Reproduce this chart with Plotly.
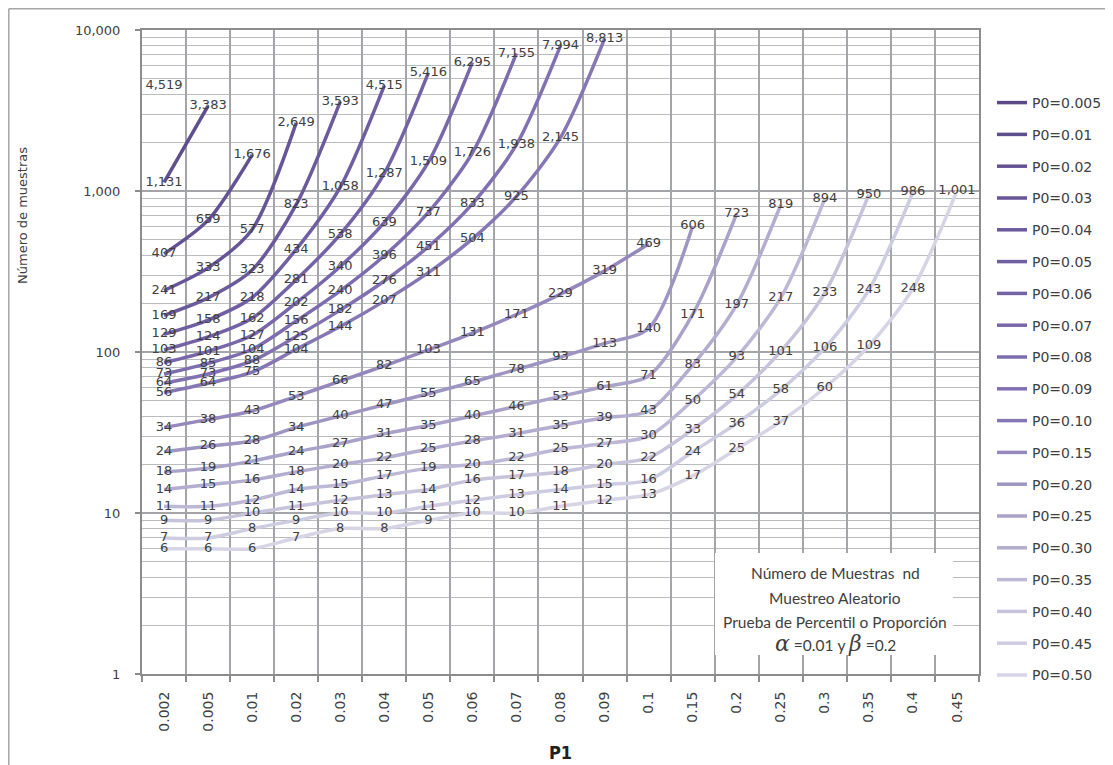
import plotly.graph_objects as go

# ---------------- data ----------------
categories = ["0.002", "0.005", "0.01", "0.02", "0.03", "0.04", "0.05", "0.06", "0.07",
              "0.08", "0.09", "0.1", "0.15", "0.2", "0.25", "0.3", "0.35", "0.4", "0.45"]

series_names = ["P0=0.005", "P0=0.01", "P0=0.02", "P0=0.03", "P0=0.04", "P0=0.05",
                "P0=0.06", "P0=0.07", "P0=0.08", "P0=0.09", "P0=0.10", "P0=0.15",
                "P0=0.20", "P0=0.25", "P0=0.30", "P0=0.35", "P0=0.40", "P0=0.45", "P0=0.50"]

s_0005 = [4519]
s_001 = [1131, 3383]
s_002 = [407, 659, 1676]
s_003 = [241, 333, 577, 2649]
s_004 = [169, 217, 323, 823, 3593]
s_005 = [129, 158, 218, 434, 1058, 4515]
s_006 = [103, 124, 162, 281, 538, 1287, 5416]
s_007 = [86, 101, 127, 202, 340, 639, 1509, 6295]
s_008 = [73, 85, 104, 156, 240, 396, 737, 1726, 7155]
s_009 = [64, 73, 88, 125, 182, 276, 451, 833, 1938, 7994]
s_010 = [56, 64, 75, 104, 144, 207, 311, 504, 925, 2145, 8813]
s_015 = [34, 38, 43, 53, 66, 82, 103, 131, 171, 229, 319, 469]
s_020 = [24, 26, 28, 34, 40, 47, 55, 65, 78, 93, 113, 140, 606]
s_025 = [18, 19, 21, 24, 27, 31, 35, 40, 46, 53, 61, 71, 171, 723]
s_030 = [14, 15, 16, 18, 20, 22, 25, 28, 31, 35, 39, 43, 83, 197, 819]
s_035 = [11, 11, 12, 14, 15, 17, 19, 20, 22, 25, 27, 30, 50, 93, 217, 894]
s_040 = [9, 9, 10, 11, 12, 13, 14, 16, 17, 18, 20, 22, 33, 54, 101, 233, 950]
s_045 = [7, 7, 8, 9, 10, 10, 11, 12, 13, 14, 15, 16, 24, 36, 58, 106, 243, 986]
s_050 = [6, 6, 6, 7, 8, 8, 9, 10, 10, 11, 12, 13, 17, 25, 37, 60, 109, 248, 1001]

series_values = [s_0005, s_001, s_002, s_003, s_004, s_005, s_006, s_007, s_008, s_009,
                 s_010, s_015, s_020, s_025, s_030, s_035, s_040, s_045, s_050]

colors = ["#5b4a86", "#5f4e8d", "#635292", "#675697", "#6b5a9c", "#6f5ea1", "#7462a6",
          "#7867aa", "#7d6cae", "#8271b2", "#8677b4", "#9488bd", "#9f95c3", "#aaa2c9",
          "#b4adcf", "#bdb8d5", "#c6c3db", "#cecce0", "#d7d5e5"]

# ---------------- geometry (page pixels; the page body has an 8px margin) ----------------
PAGE_W, PAGE_H, OFF = 1113, 765, 8
W, H = PAGE_W - OFF, PAGE_H - OFF
L, R, T, B = 142, 979, 30, 674   # plot area in page pixels


def px(x):
    return (x - L) / (R - L)


def py(y):
    return 1 - (y - T) / (B - T)


TXT = "#404040"
GRID = "#a3a5a8"
FONT = "DejaVu Sans"

fig = go.Figure()

# lines (with legend)
for i, (name, vals) in enumerate(zip(series_names, series_values)):
    fig.add_trace(go.Scatter(
        x=categories[:len(vals)], y=vals, mode="lines", name=name,
        line=dict(color=colors[i], width=3.5, shape="spline", smoothing=0.8),
        legendgroup=name, showlegend=True, hoverinfo="skip"))

# data labels on top of all lines
for i, (name, vals) in enumerate(zip(series_names, series_values)):
    fig.add_trace(go.Scatter(
        x=categories[:len(vals)], y=vals, mode="text",
        text=[f"{v:,}" for v in vals], textposition="middle center",
        textfont=dict(family=FONT, size=13, color=TXT),
        legendgroup=name, showlegend=False, hoverinfo="skip"))

fig.update_layout(
    width=W, height=H,
    margin=dict(l=L - OFF, r=PAGE_W - R, t=T - OFF, b=PAGE_H - B, autoexpand=False),
    paper_bgcolor="white", plot_bgcolor="white",
    font=dict(family=FONT, color=TXT, size=13),
    legend=dict(x=px(992), y=py(87), xanchor="left", yanchor="top",
                font=dict(family=FONT, size=14, color=TXT),
                tracegroupgap=10.6, bgcolor="rgba(0,0,0,0)", itemwidth=30,
                traceorder="grouped"),
    xaxis=dict(type="category", categoryorder="array", categoryarray=categories,
               range=[-0.5, len(categories) - 0.5], tickson="boundaries",
               showgrid=True, gridcolor=GRID, gridwidth=1.5,
               showline=True, linecolor="#8c8c8c", linewidth=2, mirror=True,
               ticks="outside", ticklen=6, tickcolor="#8c8c8c", tickwidth=1.5,
               tickangle=-90, tickfont=dict(family=FONT, size=14, color=TXT),
               ticklabelstandoff=10, zeroline=False),
    yaxis=dict(type="log", range=[0, 4], dtick=1, tickformat=",",
               showgrid=True, gridcolor=GRID, gridwidth=1.5,
               showline=True, linecolor="#8c8c8c", linewidth=2, mirror=True,
               ticks="outside", ticklen=5, tickcolor="#8c8c8c", tickwidth=1.5,
               tickfont=dict(family=FONT, size=13, color=TXT),
               ticklabelstandoff=12, zeroline=False,
               minor=dict(dtick="D1", showgrid=True, gridcolor="#b9bbbe",
                          gridwidth=1, ticks="")),
)

# outer frame (left and top edges visible)
fig.add_shape(type="line", xref="paper", yref="paper", x0=px(8.8), x1=px(PAGE_W + 10),
              y0=py(8.8), y1=py(8.8), line=dict(color="#a6a6a6", width=1.5))
fig.add_shape(type="line", xref="paper", yref="paper", x0=px(8.8), x1=px(8.8),
              y0=py(8.8), y1=py(PAGE_H + 10), line=dict(color="#a6a6a6", width=1.5))

# caption box
fig.add_shape(type="rect", xref="paper", yref="paper", x0=px(715), x1=px(953),
              y0=py(655), y1=py(553), fillcolor="white", line=dict(width=0),
              layer="above")

cap_font = dict(family="Lato", size=15.5, color=TXT)
cap_lines = [("Número de Muestras  nd", 573), ("Muestreo Aleatorio", 598),
             ("Prueba de Percentil o Proporción", 622)]
for txt, yy in cap_lines:
    fig.add_annotation(x=px(835), y=py(yy), xref="paper", yref="paper", text=txt,
                       showarrow=False, font=cap_font, xanchor="center", yanchor="middle")
fig.add_annotation(
    x=px(835), y=py(643), xref="paper", yref="paper",
    text="<i><span style='font-size:22px;font-family:DejaVu Serif'>α</span></i> =0.01 y "
         "<i><span style='font-size:22px;font-family:DejaVu Serif'>β</span></i> =0.2",
    showarrow=False, font=cap_font, xanchor="center", yanchor="middle")

# axis titles
fig.add_annotation(x=px(22), y=py(216), xref="paper", yref="paper",
                   text="Número de muestras", textangle=-90, showarrow=False,
                   xanchor="center", yanchor="middle",
                   font=dict(family=FONT, size=13, color=TXT))
fig.add_annotation(x=px(560), y=py(752), xref="paper", yref="paper",
                   text="<b>P1</b>", showarrow=False, xanchor="center", yanchor="middle",
                   font=dict(family="DejaVu Sans Condensed, DejaVu Sans", size=18,
                             color="#202020"))

fig.write_html("out.html")
